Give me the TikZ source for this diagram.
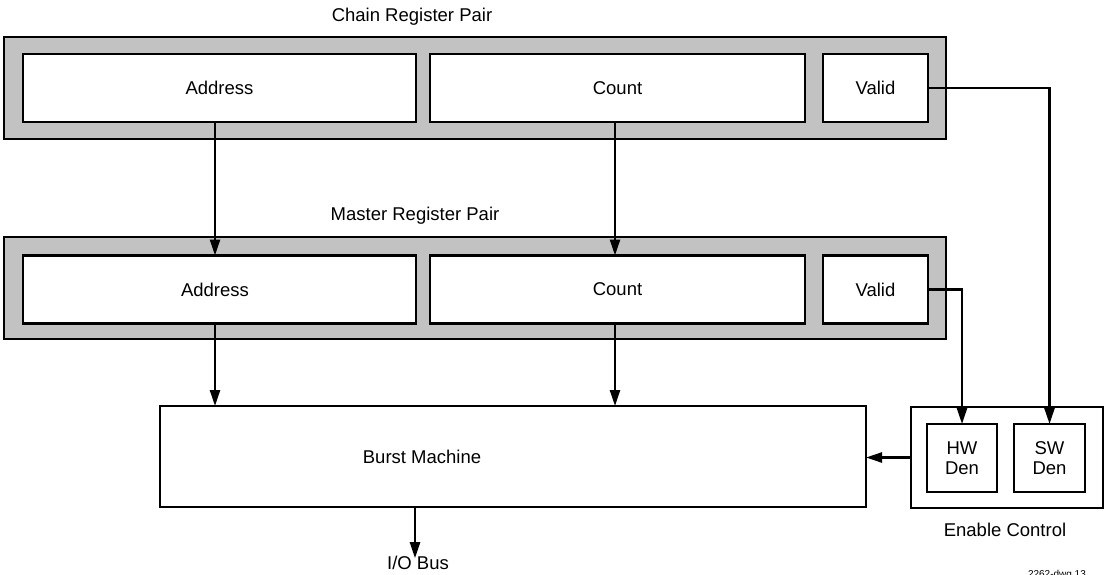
\documentclass[tikz,border=0pt]{standalone}
\usepackage{fontspec}
\setmainfont{Liberation Sans}
\usetikzlibrary{arrows.meta}
\begin{document}
\begin{tikzpicture}[x=1pt,y=-1pt,
  every node/.style={font=\fontsize{18.5}{21}\selectfont, inner sep=0pt, outer sep=0pt},
  outerbox/.style={draw, line width=2pt, fill=black!24, minimum width=942pt, minimum height=102pt},
  regbox/.style={draw, line width=2.3pt, fill=white, minimum height=68pt},
  plainbox/.style={draw, line width=2.3pt, fill=white},
  conn/.style={line width=2.4pt},
  arr/.style={conn, -{Triangle[length=16pt,width=10pt]}}
]
\useasboundingbox (0,0) rectangle (1108,575);
\fill[white] (0,0) rectangle (1108,575);

% Chain register pair
\node (chainlbl) at (412,17) {Chain Register Pair};
\node[outerbox] (chain) at (475,88) {};
\node[regbox, minimum width=393pt] (caddr) at (219.5,88) {Address};
\node[regbox, minimum width=375pt] (ccount) at (617.5,88) {Count};
\node[regbox, minimum width=105pt] (cvalid) at (875.5,88) {Valid};

% Master register pair
\node (masterlbl) at (415,216) {Master Register Pair};
\node[outerbox] (master) at (475,288) {};
\node[regbox, minimum width=393pt] (maddr) at (219.5,289.5) {};
\node at (215,289.5) {Address};
\node[regbox, minimum width=375pt] (mcount) at (617.5,289.5) {Count};
\node[regbox, minimum width=105pt] (mvalid) at (875.5,289.5) {Valid};

% Burst machine
\node[plainbox, minimum width=706pt, minimum height=101pt] (burst) at (513,456.5) {};
\node (burstlbl) at (422,457) {Burst Machine};

% Enable control
\node[plainbox, minimum width=192pt, minimum height=101pt] (enable) at (1007,457.5) {};
\node[plainbox, minimum width=70pt, minimum height=68pt, align=center, font=\fontsize{18.5}{20}\selectfont] (hw) at (962,458) {HW\\Den};
\node[plainbox, minimum width=71pt, minimum height=68pt, align=center, font=\fontsize{18.5}{20}\selectfont] (sw) at (1049.5,458) {SW\\Den};
\node (enlbl) at (1005,530) {Enable Control};

\node (io) at (418,563) {I/O Bus};
\node[anchor=north west, font=\fontsize{10}{12}\selectfont] (dwg) at (1028,570) {2262-dwg 13};

% connectors
\coordinate (xa) at (215,0);
\coordinate (xc) at (615,0);
\draw[arr] (caddr.south -| xa) -- (maddr.north -| xa);
\draw[arr] (ccount.south -| xc) -- (mcount.north -| xc);
\draw[arr] (maddr.south -| xa) -- (burst.north -| xa);
\draw[arr] (mcount.south -| xc) -- (burst.north -| xc);
\draw[arr] (cvalid.east) -| (sw.north);
\draw[arr] (mvalid.east) -| (hw.north);
\draw[arr] (enable.west) -- (burst.east |- enable.west);
\coordinate (xio) at (415,0);
\draw[arr] (burst.south -| xio) -- ([yshift=-2pt]io.north -| xio);
\end{tikzpicture}
\end{document}
